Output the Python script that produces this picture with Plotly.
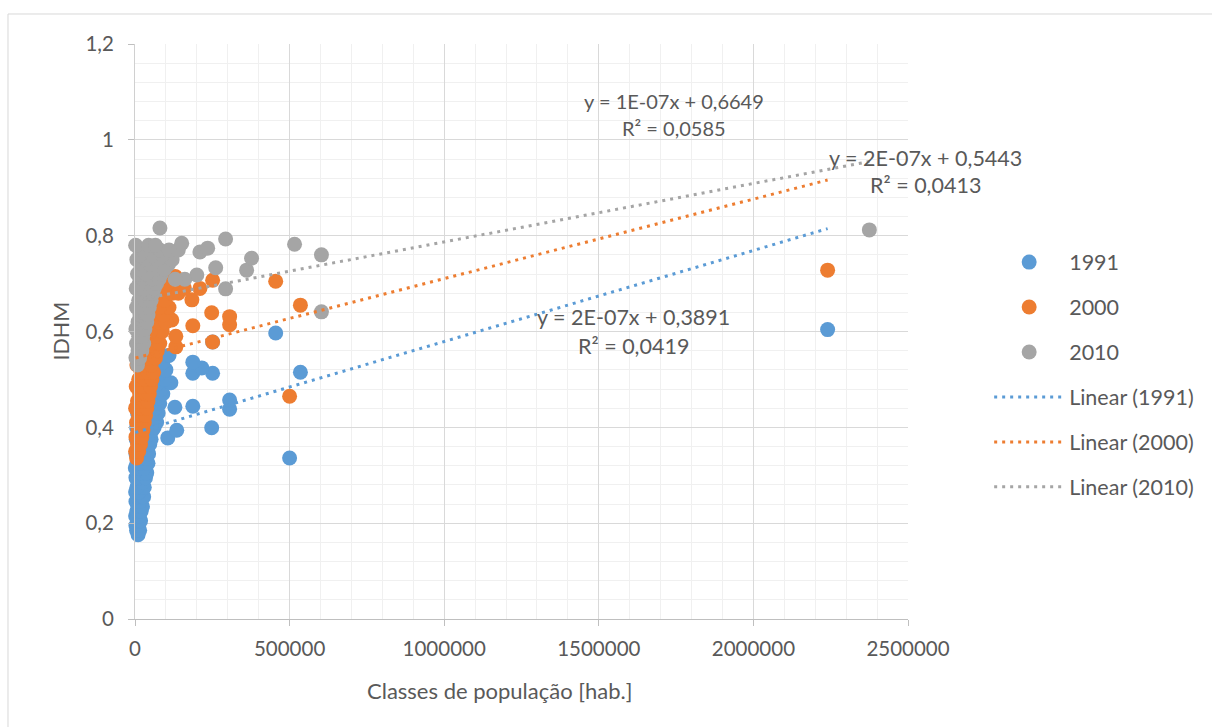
import plotly.graph_objects as go

# ---------------- data ----------------
x_1991 = [10000, 5000, 15000, 3000, 12000, 8000, 18000, 2000, 14000, 6000, 20000, 10000, 24000,
          3000, 16000, 8000, 22000, 28000, 2000, 13000, 18000, 30000, 6000, 10000, 25000,
          3000, 16000, 34000, 8000, 22000, 38000, 1000, 14000, 30000, 6000, 20000, 42000,
          11000, 28000, 36000, 3000, 18000, 44000, 8000, 25000, 40000, 14000, 33000, 48000,
          4000, 22000, 106000, 52000, 10000, 30000, 45000, 135000, 18000, 56000,
          248000, 38000, 62000, 5000, 26000, 50000, 70000, 12000, 42000, 58000,
          32000, 75000, 8000, 129000, 306000, 187000, 48000, 66000, 20000, 55000, 80000,
          306000, 38000, 72000, 28000, 60000, 90000, 46000, 84000, 15000, 116000, 70000,
          35000, 95000, 58000, 187000, 251000, 80000, 45000, 100000, 216000, 187000, 90000,
          60000, 110000, 25000, 75000, 251000, 455000, 535000, 500000, 2240000]
y_1991 = [0.176, 0.185, 0.185, 0.195, 0.195, 0.205, 0.205, 0.215, 0.215, 0.225, 0.225, 0.235, 0.235,
          0.245, 0.245, 0.255, 0.255, 0.255, 0.265, 0.265, 0.275, 0.275, 0.275, 0.285, 0.285,
          0.295, 0.295, 0.295, 0.305, 0.305, 0.305, 0.315, 0.315, 0.315, 0.325, 0.325, 0.325,
          0.335, 0.335, 0.335, 0.345, 0.345, 0.345, 0.355, 0.355, 0.355, 0.365, 0.365, 0.365,
          0.375, 0.375, 0.378, 0.375, 0.385, 0.385, 0.385, 0.394, 0.394, 0.394,
          0.399, 0.40, 0.40, 0.40, 0.41, 0.41, 0.41, 0.42, 0.42, 0.42,
          0.43, 0.43, 0.43, 0.442, 0.438, 0.444, 0.44, 0.44, 0.45, 0.45, 0.45,
          0.457, 0.46, 0.46, 0.47, 0.47, 0.47, 0.48, 0.48, 0.48, 0.493, 0.49,
          0.50, 0.50, 0.50, 0.513, 0.513, 0.513, 0.52, 0.52, 0.524, 0.536, 0.536,
          0.55, 0.55, 0.55, 0.56, 0.578, 0.597, 0.515, 0.336, 0.604]

x_2000 = [5000, 2000, 12000, 8000, 18000, 3000, 14000, 22000, 10000, 26000, 5000, 18000, 30000,
          12000, 24000, 34000, 2000, 20000, 38000, 8000, 28000, 42000, 15000, 35000, 46000,
          4000, 24000, 50000, 12000, 32000, 55000, 20000, 42000, 60000, 6000, 28000, 52000,
          16000, 38000, 66000, 24000, 48000, 72000, 132000, 10000, 58000, 80000, 251000,
          132000, 34000, 68000, 20000, 88000, 50000, 187000, 306000, 119000, 76000, 40000, 100000,
          306000, 248000, 60000, 92000, 28000, 110000, 78000, 535000, 184000, 96000, 50000,
          120000, 70000, 140000, 210000, 85000, 160000, 105000, 40000, 455000, 251000,
          130000, 60000, 500000, 2240000]
y_2000 = [0.336, 0.35, 0.35, 0.365, 0.365, 0.38, 0.38, 0.38, 0.395, 0.395, 0.41, 0.41, 0.41,
          0.425, 0.425, 0.425, 0.44, 0.44, 0.44, 0.455, 0.455, 0.455, 0.47, 0.47, 0.47,
          0.485, 0.485, 0.485, 0.50, 0.50, 0.50, 0.515, 0.515, 0.515, 0.53, 0.53, 0.53,
          0.545, 0.545, 0.545, 0.56, 0.56, 0.56, 0.568, 0.575, 0.575, 0.575, 0.578,
          0.59, 0.59, 0.59, 0.60, 0.60, 0.60, 0.612, 0.614, 0.624, 0.62, 0.62, 0.62,
          0.631, 0.639, 0.635, 0.635, 0.65, 0.65, 0.65, 0.655, 0.666, 0.665, 0.665,
          0.68, 0.68, 0.68, 0.69, 0.69, 0.69, 0.70, 0.70, 0.705, 0.707,
          0.715, 0.715, 0.465, 0.728]

x_2010 = [8000, 3000, 15000, 10000, 22000, 5000, 18000, 28000, 12000, 25000, 3000, 20000, 32000,
          10000, 28000, 38000, 16000, 34000, 42000, 5000, 24000, 46000, 12000, 32000, 52000,
          20000, 40000, 58000, 4000, 30000, 62000, 14000, 48000, 70000, 24000, 56000, 78000,
          200000, 161000, 130000, 8000, 36000, 85000, 18000, 64000, 95000, 361000, 261000,
          28000, 48000, 108000, 6000, 38000, 72000, 120000, 377000, 16000, 56000, 90000,
          603000, 210000, 26000, 80000, 110000, 140000, 235000, 2000, 44000, 66000, 151000,
          516000, 293000, 80600, 293000, 603000, 2375000]
y_2010 = [0.53, 0.545, 0.545, 0.56, 0.56, 0.575, 0.575, 0.575, 0.59, 0.59, 0.605, 0.605, 0.605,
          0.62, 0.62, 0.62, 0.635, 0.635, 0.635, 0.65, 0.65, 0.65, 0.665, 0.665, 0.665,
          0.68, 0.68, 0.68, 0.69, 0.69, 0.69, 0.70, 0.70, 0.70, 0.71, 0.71, 0.71,
          0.718, 0.709, 0.709, 0.72, 0.72, 0.72, 0.73, 0.73, 0.73, 0.728, 0.733,
          0.74, 0.74, 0.74, 0.75, 0.75, 0.75, 0.75, 0.753, 0.76, 0.76, 0.76,
          0.760, 0.766, 0.77, 0.77, 0.77, 0.77, 0.774, 0.78, 0.78, 0.78, 0.784,
          0.782, 0.793, 0.816, 0.689, 0.641, 0.812]

series_names = ["1991", "2000", "2010"]
series_colors = ["#5B9BD5", "#ED7D31", "#A5A5A5"]
trend_slopes = [1.9e-07, 1.66e-07, 1.22e-07]
trend_intercepts = [0.3891, 0.5443, 0.6649]
trend_labels = [["y = 2E-07x + 0,3891", "R² = 0,0419"],
                ["y = 2E-07x + 0,5443", "R² = 0,0413"],
                ["y = 1E-07x + 0,6649", "R² = 0,0585"]]

x_tick_vals = [0, 500000, 1000000, 1500000, 2000000, 2500000]
x_tick_text = ["0", "500000", "1000000", "1500000", "2000000", "2500000"]
y_tick_vals = [0, 0.2, 0.4, 0.6, 0.8, 1.0, 1.2]
y_tick_text = ["0", "0,2", "0,4", "0,6", "0,8", "1", "1,2"]

x_title = "Classes de população [hab.]"
y_title = "IDHM"

# ---------------- figure ----------------
FONT = "Lato"
TXT = "#595959"
xs = [x_1991, x_2000, x_2010]
ys = [y_1991, y_2000, y_2010]

fig = go.Figure()
for i in range(3):
    fig.add_trace(go.Scatter(
        x=xs[i], y=ys[i], mode="markers", name=series_names[i],
        legendgroup="g%d" % i,
        marker=dict(color=series_colors[i], size=15, line=dict(width=0)),
        cliponaxis=False))
for i in range(3):
    xa = min(xs[i])
    xb = max(xs[i])
    fig.add_trace(go.Scatter(
        x=[xa, xb],
        y=[trend_intercepts[i] + trend_slopes[i] * xa, trend_intercepts[i] + trend_slopes[i] * xb],
        mode="lines", name="Linear (%s)" % series_names[i],
        legendgroup="t%d" % i,
        line=dict(color=series_colors[i], width=3, dash="3px,5px")))

# trendline equation labels: (xref, x, y line1, y line2, font size)
label_pos = [("x", 1613000, 0.630, 0.570, 21.5),
             ("paper", 1.022, 0.962, 0.906, 21.5),
             ("x", 1742000, 1.081, 1.025, 20)]
ann = []
for i in range(3):
    xr, lx, ly1, ly2, fs = label_pos[i]
    for txt, ly in zip(trend_labels[i], (ly1, ly2)):
        ann.append(dict(x=lx, y=ly, xref=xr, yref="y", text=txt, showarrow=False,
                        font=dict(family=FONT, size=fs, color=TXT),
                        xanchor="center", yanchor="middle"))
ann.append(dict(x=0.472, y=-0.125, xref="paper", yref="paper", text=x_title, showarrow=False,
                font=dict(family=FONT, size=22, color=TXT), xanchor="center", yanchor="middle"))
ann.append(dict(x=-0.097, y=0.50, xref="paper", yref="paper", text=y_title, showarrow=False,
                textangle=-90, font=dict(family=FONT, size=21.5, color=TXT),
                xanchor="center", yanchor="middle"))

fig.update_layout(
    width=1212, height=727,
    margin=dict(l=135, r=304, t=44, b=108),
    paper_bgcolor="white", plot_bgcolor="white",
    font=dict(family=FONT, size=20, color=TXT),
    annotations=ann,
    showlegend=True,
    legend=dict(x=1.105, y=0.425, xanchor="left", yanchor="middle",
                font=dict(family=FONT, size=21.5, color=TXT),
                tracegroupgap=14, itemwidth=70, bgcolor="rgba(0,0,0,0)"),
    shapes=[dict(type="rect", xref="paper", yref="paper",
                 x0=-0.1643, x1=1.40, y0=-0.20, y1=1.0522,
                 line=dict(color="#D9D9D9", width=1), layer="below")],
)
fig.update_xaxes(range=[0, 2500000], tickvals=x_tick_vals, ticktext=x_tick_text,
                 showgrid=True, gridcolor="#D9D9D9", gridwidth=1,
                 minor=dict(dtick=100000, showgrid=True, gridcolor="#F0F0F0", gridwidth=1),
                 showline=True, linecolor="#BFBFBF", linewidth=1,
                 ticks="outside", ticklen=6, tickcolor="#BFBFBF", ticklabelstandoff=5,
                 zeroline=False, tickfont=dict(family=FONT, size=20.5, color=TXT))
fig.update_yaxes(range=[0, 1.2], tickvals=y_tick_vals, ticktext=y_tick_text,
                 showgrid=True, gridcolor="#D9D9D9", gridwidth=1,
                 minor=dict(dtick=0.04, showgrid=True, gridcolor="#F0F0F0", gridwidth=1),
                 showline=True, linecolor="#D0D0D0", linewidth=1,
                 ticks="outside", ticklen=6, tickcolor="#BFBFBF", ticklabelstandoff=10,
                 zeroline=False, tickfont=dict(family=FONT, size=20.5, color=TXT))

fig.write_html("out.html")
